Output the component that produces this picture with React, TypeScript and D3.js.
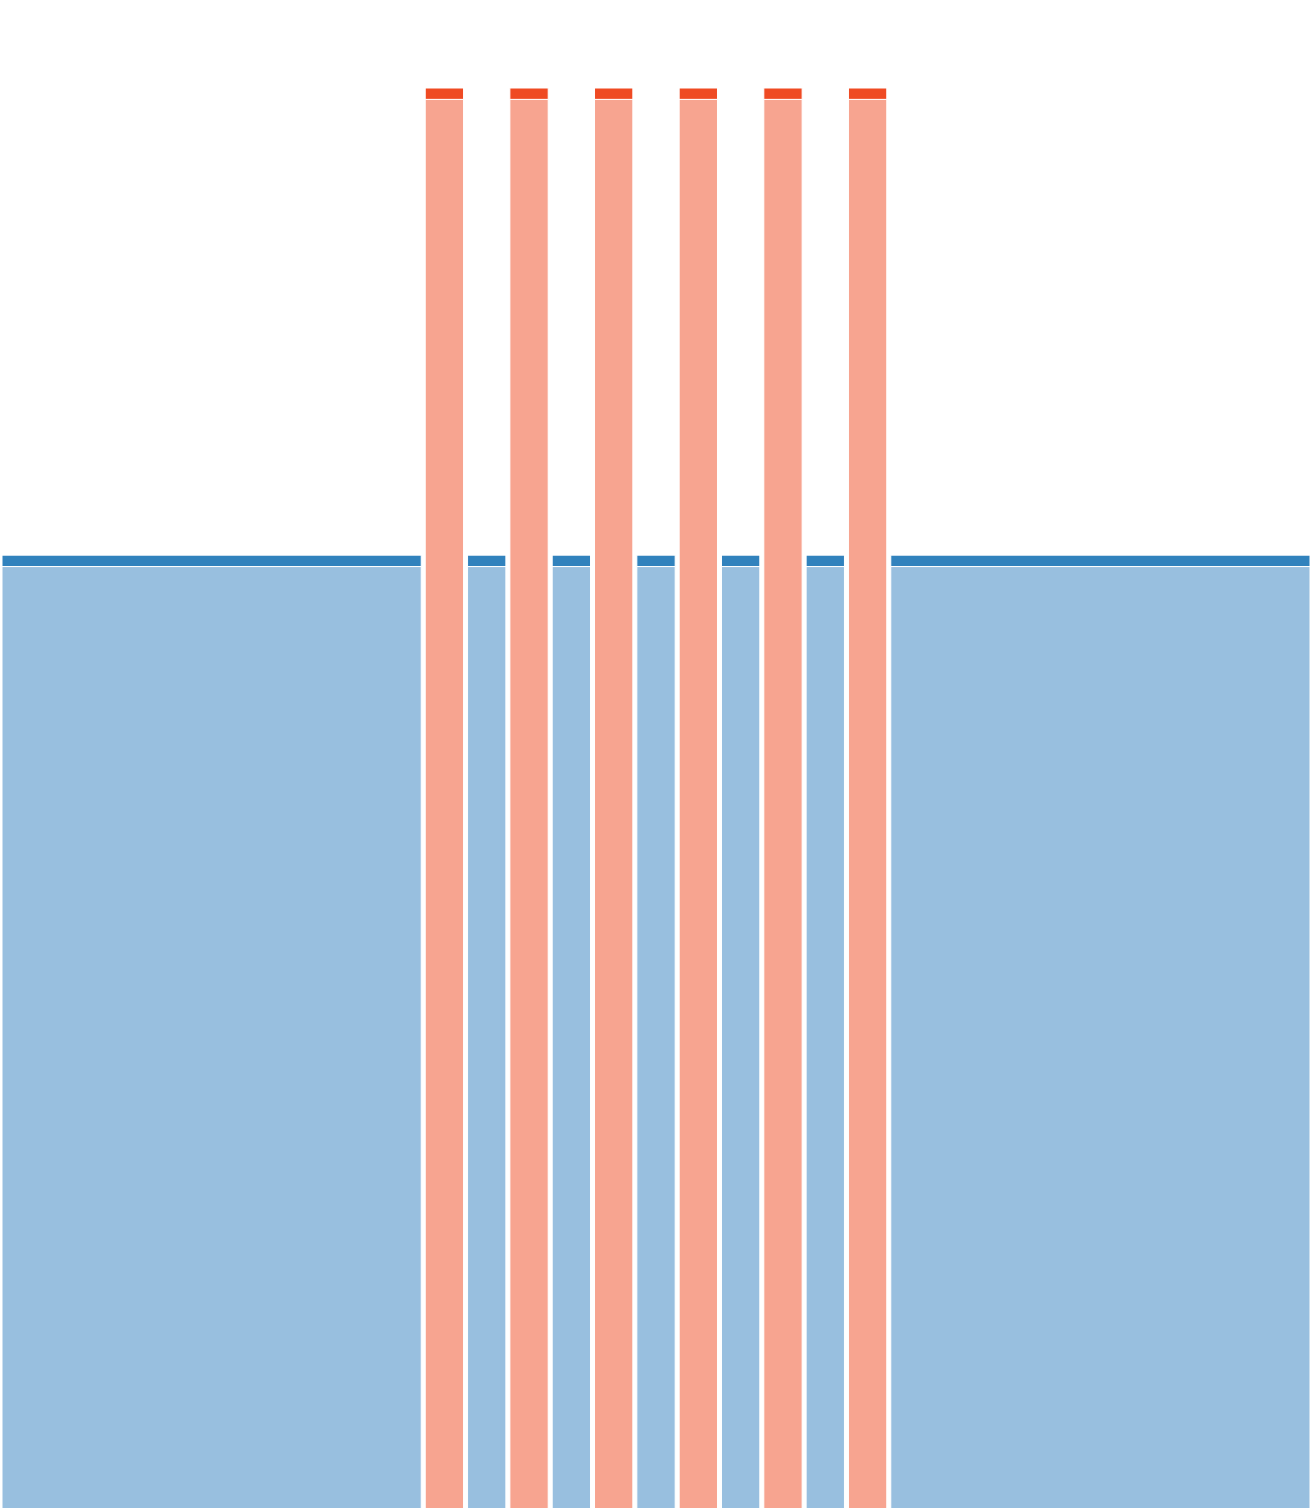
import React from "react";
import * as d3 from "d3";

const groups = ["L", "r1", "b1", "r2", "b2", "r3", "b3", "r4", "b4", "r5", "b5", "r6", "R"];
const groupSide = ["blue", "red", "blue", "red", "blue", "red", "blue", "red", "blue", "red", "blue", "red", "blue"];
const groupWeights = [10, 1, 1, 1, 1, 1, 1, 1, 1, 1, 1, 1, 10];
const baseValues = [66.3, 99.2, 66.3, 99.2, 66.3, 99.2, 66.3, 99.2, 66.3, 99.2, 66.3, 99.2, 66.3];
const topValues = [0.8, 0.8, 0.8, 0.8, 0.8, 0.8, 0.8, 0.8, 0.8, 0.8, 0.8, 0.8, 0.8];

const W = 1312;
const H = 1508;
const colors: Record<string, { dark: string; light: string }> = {
  blue: { dark: "#3182bd", light: "#98bfdf" },
  red: { dark: "#ef4a23", light: "#f7a490" },
};

export default function App() {
  const total = d3.sum(groupWeights);
  const x = d3.scaleLinear().domain([0, total]).range([0, W]);
  const y = d3.scaleLinear().domain([0, 100]).range([H, 88]);
  const pad = 2.0;
  let cum = 0;
  const bars = groups.map((g, i) => {
    const x0 = x(cum) + pad;
    const x1 = x(cum + groupWeights[i]) - pad;
    cum += groupWeights[i];
    const c = colors[groupSide[i]];
    const b = baseValues[i];
    const t = topValues[i];
    return (
      <g key={g}>
        <rect x={x0} y={y(b)} width={x1 - x0} height={y(0) - y(b) + 2} fill={c.light} stroke="#fff" strokeWidth={1} />
        <rect x={x0} y={y(b + t)} width={x1 - x0} height={y(b) - y(b + t)} fill={c.dark} stroke="#fff" strokeWidth={1} />
      </g>
    );
  });
  return (
    <svg width={W} height={H} style={{ position: "absolute", left: 0, top: 0, display: "block", background: "#fff" }}>
      {bars}
    </svg>
  );
}
